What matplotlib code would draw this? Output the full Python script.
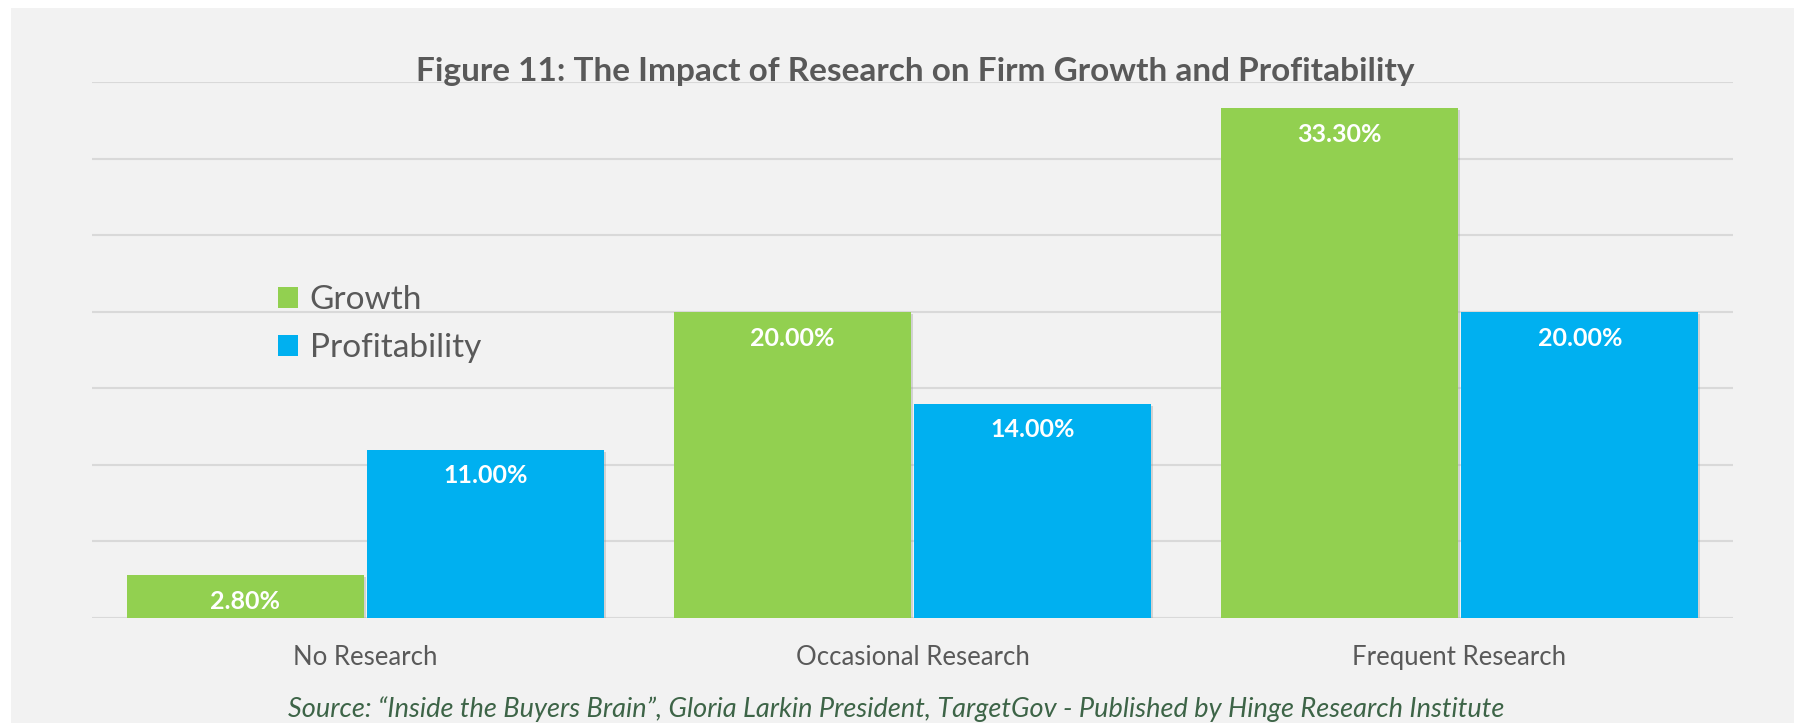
import numpy as np
import matplotlib
matplotlib.use('Agg')
import matplotlib.pyplot as plt
from matplotlib.patches import Patch, Rectangle
import matplotlib.patheffects as pe

plt.rcParams['font.family'] = ['Lato', 'DejaVu Sans']

# data
categories = ['No Research', 'Occasional Research', 'Frequent Research']
growth = [2.8, 20.0, 33.3]
profitability = [11.0, 14.0, 20.0]
series_names = ['Growth', 'Profitability']
colors = ['#92d050', '#00b0f0']

fig = plt.figure(figsize=(17.94, 7.23), dpi=100, facecolor='white')
# gray panel behind everything
fig.patches.append(Rectangle((11 / 1794, 0), 1, (723 - 8) / 723, transform=fig.transFigure,
                             facecolor='#f2f2f2', edgecolor='none', zorder=-10))

ax = fig.add_axes([92 / 1794, 105 / 723, (1733 - 92) / 1794, (618 - 82) / 723])
ax.set_facecolor('none')
ax.set_zorder(1)

x = np.arange(len(categories))
w = 0.433
off = 0.22
shadow = [pe.SimplePatchShadow(offset=(1.5, -1.5), shadow_rgbFace='#999999', alpha=0.35), pe.Normal()]
b1 = ax.bar(x - off, growth, w, color=colors[0], zorder=3, path_effects=shadow)
b2 = ax.bar(x + off, profitability, w, color=colors[1], zorder=3, path_effects=shadow)

for bars, vals in [(b1, growth), (b2, profitability)]:
    for bar, v in zip(bars, vals):
        ax.annotate('%.2f%%' % v, (bar.get_x() + bar.get_width() / 2, v),
                    xytext=(0, -19), textcoords='offset points', ha='center', va='center',
                    color='white', fontsize=18, fontweight='bold', zorder=4)

ax.set_xlim(-0.5, 2.5)
ax.set_ylim(0, 35)
ax.set_yticks(np.arange(0, 36, 5))
ax.yaxis.grid(True, color='#d9d9d9', linewidth=1.5, zorder=0)
ax.tick_params(axis='y', left=False, labelleft=False)
ax.tick_params(axis='x', bottom=False, labelsize=18.5, labelcolor='#595959', pad=16)
ax.set_xticks(x)
ax.set_xticklabels(categories)
for s in ax.spines.values():
    s.set_visible(False)

fig.text(915 / 1794, 1 - 71 / 723, 'Figure 11: The Impact of Research on Firm Growth and Profitability',
         ha='center', va='center', fontsize=24, fontweight='bold', color='#595959')

handles = [Patch(facecolor=c, edgecolor='none') for c in colors]
fig.legend(handles, series_names, loc='upper left', bbox_to_anchor=(248 / 1794, 1 - 255 / 723),
           frameon=False, fontsize=24, labelcolor='#595959', handlelength=0.6, handleheight=0.6,
           handletextpad=0.35, labelspacing=0.55)

fig.text(896 / 1794, 1 - 709 / 723,
         'Source: \u201cInside the Buyers Brain\u201d, Gloria Larkin President, TargetGov - Published by Hinge Research Institute',
         ha='center', va='center', fontsize=19.5, style='italic', color='#3d6447')

fig.savefig('out.png', dpi=100, facecolor=fig.get_facecolor())
